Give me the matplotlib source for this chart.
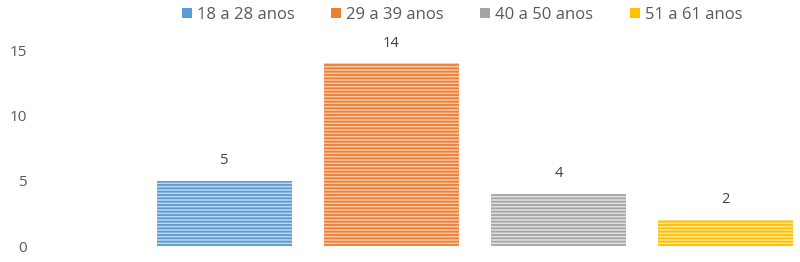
import matplotlib
matplotlib.use("Agg")
import matplotlib.pyplot as plt
from matplotlib.patches import Patch

categories = ["18 a 28 anos", "29 a 39 anos", "40 a 50 anos", "51 a 61 anos"]
values = [5, 14, 4, 2]
yticks = [0, 5, 10, 15]

dark = ["#5B9BD5", "#ED7D31", "#A5A5A5", "#FFC000"]
light = ["#BDD7EE", "#F8CBAD", "#E0E0E0", "#FFE699"]

plt.rcParams['font.family'] = ['Open Sans', 'DejaVu Sans']
plt.rcParams['hatch.linewidth'] = 1.3

W, H = 800, 262
fig = plt.figure(figsize=(W/100, H/100), dpi=100)
left_px, right_px, bottom_px, top_px = 35, 800, 246, 50
ax = fig.add_axes([left_px/W, (H-bottom_px)/H, (right_px-left_px)/W, (bottom_px-top_px)/H])

x0_px, step_px = 224.5, 167
xs = list(range(len(values)))
bars = ax.bar(xs, values, width=135/167, color=light, edgecolor=dark,
              linewidth=0, hatch='-----')
for i, b in enumerate(bars):
    b.set_edgecolor(dark[i])

for x, v in zip(xs, values):
    ax.annotate(str(v), (x, v), xytext=(0, 9), textcoords='offset points',
                ha='center', va='bottom', fontsize=10.5, color='#404040')

ax.set_xlim((left_px - x0_px)/step_px, (right_px - x0_px)/step_px)
ax.set_ylim(0, 15)
ax.set_yticks(yticks)
ax.set_yticklabels([str(t) for t in yticks], fontsize=11, color='#595959')
ax.tick_params(axis='y', length=0, pad=6)
ax.set_xticks([])
for s in ax.spines.values():
    s.set_visible(False)

handles = [Patch(facecolor=c, edgecolor='none') for c in dark]
fig.legend(handles, categories, loc='center', bbox_to_anchor=(462/W, 1-15/H),
           ncol=4, frameon=False, fontsize=12, handlelength=0.6, handleheight=0.6,
           handletextpad=0.3, columnspacing=2.2, labelcolor='#595959')

fig.savefig('out.png', dpi=100)
